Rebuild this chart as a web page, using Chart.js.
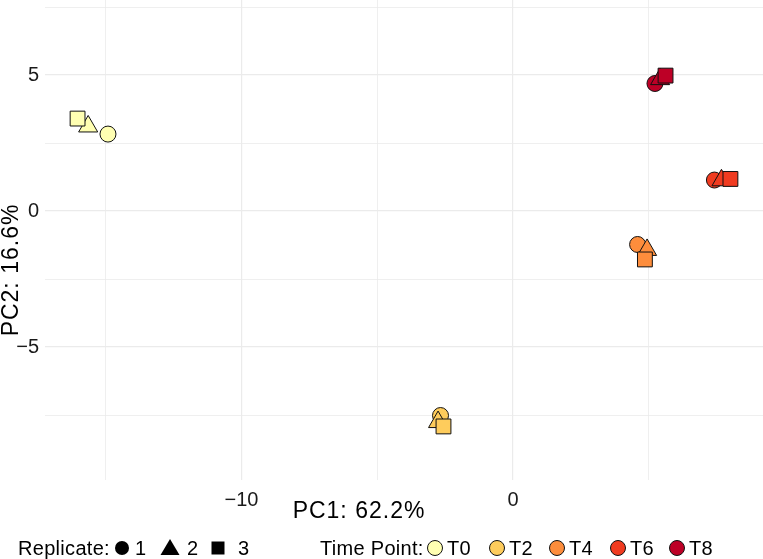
<!DOCTYPE html>
<html>
<head>
<meta charset="utf-8">
<script src="https://cdn.jsdelivr.net/npm/chart.js@4"></script>
<style>
  html, body { margin: 0; padding: 0; background: #fff; }
  #wrap { width: 763px; height: 559px; }
</style>
</head>
<body>
<div id="wrap"><canvas id="pcaChart" width="763" height="559"></canvas></div>
<script>
// time points and their colours
const timePoints = ["T0", "T2", "T4", "T6", "T8"];
const timeColors = ["#FFFFB2", "#FECC5C", "#FD8D3C", "#F03B20", "#BD0026"];

// replicates 1, 2, 3 -> circle, triangle, square
const replicates = ["1", "2", "3"];
const repShapes = ["circle", "triangle", "rect"];
const repRadius = [8, 11, 10.5];

// PC1 / PC2 scores, one entry per replicate
const pc1 = {
    T0: [-14.92, -15.65, -16.04],
    T2: [-2.67, -2.76, -2.56],
    T4: [4.59, 4.94, 4.86],
    T6: [7.42, 7.68, 8.01],
    T8: [5.23, 5.42, 5.62]
};
const pc2 = {
    T0: [2.83, 3.11, 3.40],
    T2: [-7.52, -7.76, -7.92],
    T4: [-1.23, -1.43, -1.78],
    T6: [1.14, 1.13, 1.18],
    T8: [4.69, 4.85, 4.98]
};

const xTitle = "PC1: 62.2%";
const yTitle = "PC2: 16.6%";

const FONT = "'Liberation Sans', Arial, sans-serif";

const datasets = timePoints.map((tp, i) => ({
    label: tp,
    data: replicates.map((r, j) => ({x: pc1[tp][j], y: pc2[tp][j]})),
    pointStyle: repShapes,
    pointRadius: repRadius,
    backgroundColor: timeColors[i],
    borderColor: "#111",
    borderWidth: 1
}));

function minus(v) {
    return v < 0 ? "\u2212" + Math.abs(v) : String(v);
}

const extras = {
    id: "extras",
    afterDraw(chart) {
        const ctx = chart.ctx;
        ctx.save();
        ctx.fillStyle = "#000";

        // axis titles
        ctx.font = "23px " + FONT;
        ctx.letterSpacing = "1px";
        ctx.textAlign = "center";
        ctx.textBaseline = "alphabetic";
        ctx.fillText(xTitle, 359, 518);
        ctx.save();
        ctx.translate(18, 270);
        ctx.rotate(-Math.PI / 2);
        ctx.fillText(yTitle, 0, 0);
        ctx.restore();

        // legend
        ctx.font = "20px " + FONT;
        ctx.letterSpacing = "0.3px";
        ctx.textAlign = "left";
        const ly = 548, base = 555;
        ctx.fillText("Replicate:", 18, base);
        const repX = [122, 170, 218];
        const repTextX = [135, 187, 238];
        replicates.forEach((r, j) => {
            ctx.fillStyle = "#000";
            ctx.beginPath();
            if (j === 0) {
                ctx.arc(repX[j], ly, 7, 0, Math.PI * 2);
            } else if (j === 1) {
                ctx.moveTo(repX[j], ly - 9);
                ctx.lineTo(repX[j] + 9.5, ly + 7);
                ctx.lineTo(repX[j] - 9.5, ly + 7);
                ctx.closePath();
            } else {
                ctx.rect(repX[j] - 6.5, ly - 6.5, 13, 13);
            }
            ctx.fill();
            ctx.fillText(r, repTextX[j], base);
        });

        ctx.fillText("Time Point:", 320, base);
        const tpX = [435, 497, 557, 618, 677];
        timePoints.forEach((tp, i) => {
            ctx.beginPath();
            ctx.arc(tpX[i], ly, 7.5, 0, Math.PI * 2);
            ctx.fillStyle = timeColors[i];
            ctx.fill();
            ctx.lineWidth = 1;
            ctx.strokeStyle = "#111";
            ctx.stroke();
            ctx.fillStyle = "#000";
            ctx.fillText(tp, tpX[i] + 12, base);
        });
        ctx.restore();
    }
};

new Chart(document.getElementById("pcaChart"), {
    type: "scatter",
    data: {datasets},
    plugins: [extras],
    options: {
        responsive: false,
        animation: false,
        layout: {autoPadding: false, padding: {top: 0, right: 0, bottom: 40, left: 0}},
        plugins: {
            legend: {display: false},
            tooltip: {enabled: false}
        },
        scales: {
            x: {
                type: "linear",
                min: -17.24,
                max: 9.21,
                afterFit(s) {
                    s.height = 39;
                    s.paddingLeft = 0;
                    s.paddingRight = 0;
                },
                border: {display: false},
                grid: {
                    drawTicks: false,
                    color: "#EBEBEB",
                    lineWidth: c => (c.tick && c.tick.value % 10 === 0) ? 1.2 : 0.8
                },
                ticks: {
                    stepSize: 5,
                    includeBounds: false,
                    padding: 8,
                    color: "#1a1a1a",
                    font: {family: FONT, size: 20},
                    maxRotation: 0,
                    callback: v => (v % 10 === 0 ? minus(v) : "")
                }
            },
            y: {
                type: "linear",
                min: -9.89,
                max: 7.76,
                afterFit(s) {
                    s.width = 45;
                    s.paddingTop = 0;
                    s.paddingBottom = 0;
                },
                border: {display: false},
                grid: {
                    drawTicks: false,
                    color: "#EBEBEB",
                    lineWidth: c => (c.tick && c.tick.value % 5 === 0) ? 1.2 : 0.8
                },
                ticks: {
                    stepSize: 2.5,
                    includeBounds: false,
                    padding: 6,
                    color: "#1a1a1a",
                    font: {family: FONT, size: 20},
                    callback: v => (v % 5 === 0 ? minus(v) : "")
                }
            }
        }
    }
});
</script>
</body>
</html>
